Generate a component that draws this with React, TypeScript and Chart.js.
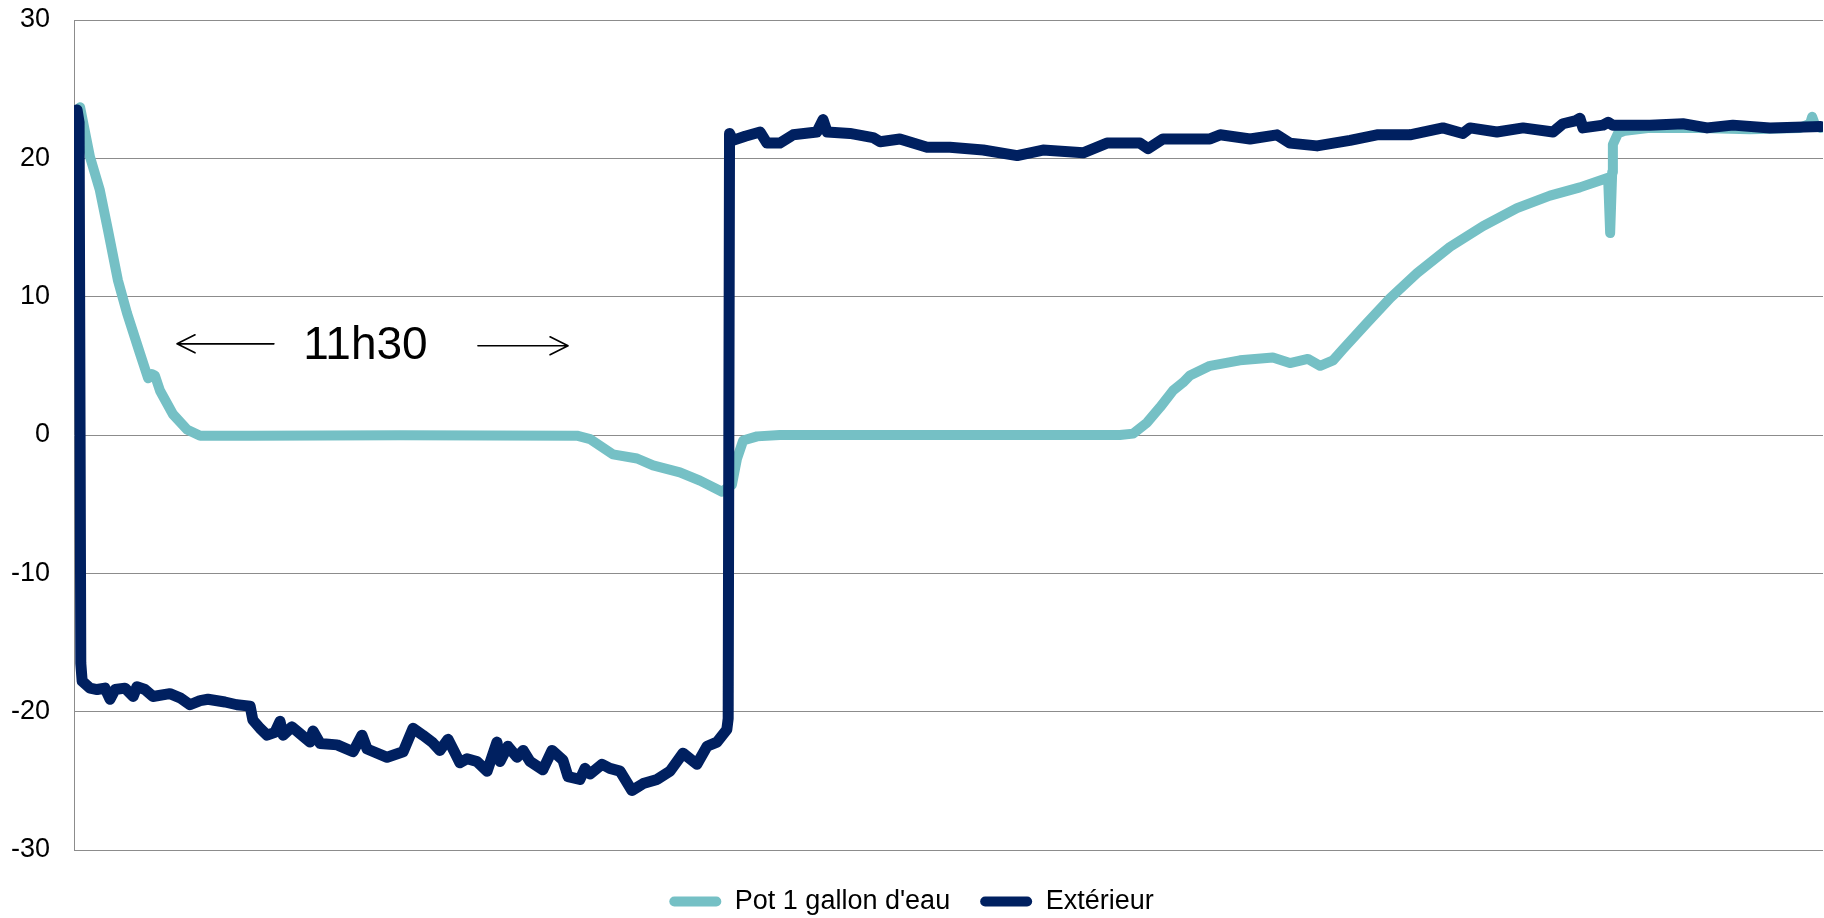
import React, { useEffect, useRef } from 'react';
import { Chart, registerables } from 'chart.js';

Chart.register(...registerables);

// ---- Data (x in hours from the start of the record, y in °C) ----
const SERIES_NAMES = ["Pot 1 gallon d'eau", 'Extérieur'];

const POT_HOURS = [
  0.12, 0.18, 0.47, 0.76, 1.0, 1.29, 1.56, 1.94, 2.18, 2.29, 2.38, 2.53, 2.91, 3.32, 3.71,
  5.18, 9.59, 14.79, 15.18, 15.85, 16.56, 17.03, 17.82, 18.41, 19.06, 19.35, 19.5, 19.68,
  20.09, 20.76, 27.24, 30.76, 31.15, 31.56, 31.94, 32.32, 32.62, 32.82, 33.41, 34.29, 35.26,
  35.76, 36.29, 36.65, 37.03, 37.32, 38.03, 38.71, 39.5, 40.47, 41.44, 42.44, 43.41, 44.29,
  45.12, 45.18, 45.24, 45.26, 45.41, 45.62, 46.35, 47.82, 49.29, 50.76, 51.06, 51.12, 51.21, 51.38,
];
const POT_TEMPS = [
  23.5, 23.7, 20.1, 17.7, 14.8, 11.2, 8.8, 5.9, 4.1, 4.4, 4.3, 3.2, 1.5, 0.4, -0.05,
  -0.05, -0.02, -0.05, -0.3, -1.4, -1.7, -2.2, -2.7, -3.3, -4.1, -3.6, -1.7, -0.4,
  -0.1, 0, 0, 0, 0.1, 0.9, 2.0, 3.2, 3.8, 4.3, 5.0, 5.4, 5.6,
  5.2, 5.5, 5.0, 5.4, 6.2, 8.1, 9.9, 11.7, 13.6, 15.1, 16.4, 17.3, 17.9,
  18.6, 14.6, 19.0, 21.0, 21.8, 22.0, 22.2, 22.2, 22.1, 22.2, 22.5, 23.0, 22.4, 22.2,
];

const EXT_HOURS = [
  0.09, 0.15, 0.2, 0.24, 0.47, 0.68, 0.91, 1.06, 1.21, 1.5, 1.74, 1.85, 2.09, 2.32, 2.82,
  3.12, 3.41, 3.71, 3.94, 4.44, 4.79, 5.18, 5.26, 5.47, 5.68, 5.91, 6.06, 6.15, 6.41, 6.65,
  6.94, 7.03, 7.24, 7.74, 8.21, 8.47, 8.62, 9.21, 9.68, 9.97, 10.26, 10.53, 10.76, 11.0,
  11.21, 11.35, 11.56, 11.85, 12.15, 12.44, 12.53, 12.76, 13.03, 13.21, 13.41, 13.79, 14.06,
  14.38, 14.53, 14.88, 15.03, 15.18, 15.53, 15.76, 16.06, 16.41, 16.74, 17.15, 17.53, 17.91,
  18.32, 18.62, 18.91, 19.2, 19.24, 19.28, 19.38, 19.74, 20.18, 20.38, 20.76, 21.15, 21.85,
  22.03, 22.15, 22.82, 23.5, 23.71, 24.29, 25.09, 25.76, 26.74, 27.74, 28.5, 29.68, 30.38,
  31.35, 31.59, 32.03, 33.41, 33.71, 34.59, 35.38, 35.76, 36.56, 37.53, 38.32, 39.29, 40.26,
  40.85, 41.06, 41.85, 42.62, 43.5, 43.79, 44.15, 44.29, 44.38, 44.97, 45.12, 45.26, 46.35,
  47.32, 48.03, 48.79, 49.88, 51.38,
];
const EXT_TEMPS = [
  23.5, 22.6, -16.5, -17.8, -18.3, -18.4, -18.3, -19.1, -18.4, -18.3, -18.9, -18.2, -18.4, -18.9, -18.7,
  -19.0, -19.5, -19.2, -19.1, -19.3, -19.5, -19.6, -20.6, -21.2, -21.7, -21.5, -20.7, -21.7, -21.1, -21.6,
  -22.2, -21.4, -22.3, -22.4, -22.9, -21.7, -22.7, -23.3, -22.9, -21.2, -21.7, -22.2, -22.8, -22.0,
  -23.0, -23.7, -23.4, -23.6, -24.3, -22.2, -23.6, -22.5, -23.3, -22.8, -23.6, -24.2, -22.8,
  -23.5, -24.7, -24.9, -24.1, -24.5, -23.8, -24.1, -24.3, -25.7, -25.2, -24.9, -24.3, -23.0,
  -23.8, -22.5, -22.2, -21.3, -20.5, 21.8, 21.3, 21.6, 21.9, 21.1, 21.1, 21.7, 21.9,
  22.8, 21.9, 21.8, 21.5, 21.2, 21.4, 20.8, 20.8, 20.6, 20.2, 20.6, 20.4, 21.1,
  21.1, 20.7, 21.4, 21.4, 21.7, 21.4, 21.7, 21.1, 20.9, 21.3, 21.7, 21.7, 22.2,
  21.8, 22.2, 21.9, 22.2, 21.9, 22.5, 22.7, 22.9, 22.2, 22.4, 22.6, 22.4, 22.4,
  22.5, 22.2, 22.4, 22.2, 22.3,
];

const Y_TICKS = [-30, -20, -10, 0, 10, 20, 30];
const X_MAX_HOURS = 51.44;

// Annotation: duration of the frozen plateau
const NOTE_LABEL = '11h30';
const NOTE_AT = [8.57, 6.38]; // hours, °C
const ARROW_LEFT = [5.88, 3.03, 6.59]; // from, to (tip), °C
const ARROW_RIGHT = [11.88, 14.53, 6.45]; // from, to (tip), °C

const FONT = '"Liberation Sans", Arial, Helvetica, sans-serif';
const POT_COLOR = '#75C0C5';
const EXT_COLOR = '#002060';
const GRID_COLOR = '#8C8C8C';

const notePlugin = {
  id: 'durationNote',
  afterDatasetsDraw(chart: any) {
    const { ctx } = chart;
    const xs = chart.scales.x;
    const ys = chart.scales.y;
    ctx.save();
    ctx.strokeStyle = '#000';
    ctx.fillStyle = '#000';
    ctx.lineWidth = 1.6;
    ctx.lineCap = 'round';
    ctx.lineJoin = 'round';
    const arrow = (a: number[]) => {
      const x0 = xs.getPixelForValue(a[0]);
      const x1 = xs.getPixelForValue(a[1]);
      const yy = ys.getPixelForValue(a[2]);
      const dir = x1 > x0 ? 1 : -1;
      ctx.beginPath();
      ctx.moveTo(x0, yy);
      ctx.lineTo(x1, yy);
      ctx.moveTo(x1 - dir * 18, yy - 9);
      ctx.lineTo(x1, yy);
      ctx.lineTo(x1 - dir * 18, yy + 9);
      ctx.stroke();
    };
    arrow(ARROW_LEFT);
    arrow(ARROW_RIGHT);
    ctx.font = `46px ${FONT}`;
    ctx.textAlign = 'center';
    ctx.textBaseline = 'middle';
    ctx.fillText(NOTE_LABEL, xs.getPixelForValue(NOTE_AT[0]), ys.getPixelForValue(NOTE_AT[1]));
    ctx.restore();
  },
};

export default function App() {
  const canvasRef = useRef<HTMLCanvasElement | null>(null);

  useEffect(() => {
    if (!canvasRef.current) return;
    const chart = new Chart(canvasRef.current, {
      type: 'line',
      data: {
        datasets: [
          {
            label: SERIES_NAMES[0],
            data: POT_HOURS.map((h, i) => ({ x: h, y: POT_TEMPS[i] })),
            borderColor: POT_COLOR,
            backgroundColor: POT_COLOR,
            borderWidth: 10,
            borderCapStyle: 'round',
            borderJoinStyle: 'round',
            pointRadius: 0,
            tension: 0,
            order: 2,
          },
          {
            label: SERIES_NAMES[1],
            data: EXT_HOURS.map((h, i) => ({ x: h, y: EXT_TEMPS[i] })),
            borderColor: EXT_COLOR,
            backgroundColor: EXT_COLOR,
            borderWidth: 11,
            borderCapStyle: 'round',
            borderJoinStyle: 'round',
            pointRadius: 0,
            tension: 0,
            order: 1,
          },
        ],
      },
      options: {
        animation: false,
        responsive: true,
        maintainAspectRatio: false,
        layout: { padding: { left: 0, right: 1, top: 20, bottom: -7 } },
        scales: {
          x: {
            type: 'linear',
            min: 0,
            max: X_MAX_HOURS,
            display: true,
            grid: { display: false },
            border: { display: false },
            ticks: { display: false },
            afterFit: (s: any) => {
              s.height = 8;
            },
          },
          y: {
            min: -30,
            max: 30,
            afterBuildTicks: (s: any) => {
              s.ticks = Y_TICKS.map((v) => ({ value: v }));
            },
            afterFit: (s: any) => {
              s.width = 74;
            },
            grid: {
              color: GRID_COLOR,
              lineWidth: 1,
              drawTicks: true,
              tickLength: 24,
              tickColor: 'rgba(0,0,0,0)',
            },
            border: { display: true, color: GRID_COLOR, width: 1 },
            ticks: {
              padding: 0,
              color: '#000',
              font: { family: FONT, size: 27 },
            },
          },
        },
        plugins: {
          tooltip: { enabled: false },
          legend: {
            display: true,
            position: 'bottom',
            labels: {
              color: '#000',
              font: { family: FONT, size: 27 },
              boxWidth: 52,
              boxHeight: 10,
              padding: 30,
              useBorderRadius: true,
              borderRadius: 5,
              sort: (a: any, b: any) => a.datasetIndex - b.datasetIndex,
              generateLabels: (c: any) =>
                (Chart.defaults.plugins.legend.labels as any)
                  .generateLabels(c)
                  .map((it: any) => ({ ...it, lineWidth: 0, borderRadius: 5 })),
            },
          },
        },
      } as any,
      plugins: [notePlugin],
    });
    return () => chart.destroy();
  }, []);

  return (
    <div style={{ position: 'fixed', left: 0, top: 0, width: 1824, height: 918, background: '#fff' }}>
      <canvas ref={canvasRef} />
    </div>
  );
}
